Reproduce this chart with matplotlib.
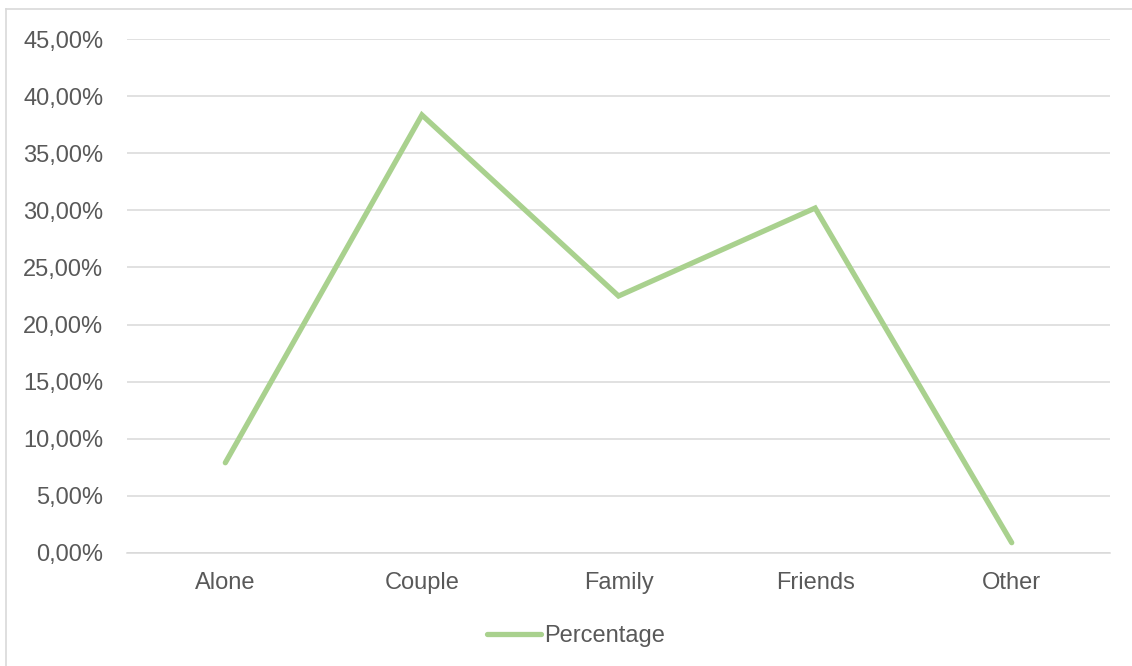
import matplotlib
matplotlib.use("Agg")
import matplotlib.pyplot as plt
from matplotlib.ticker import FuncFormatter, MultipleLocator
from matplotlib.lines import Line2D

categories = ["Alone", "Couple", "Family", "Friends", "Other"]
percentage = [7.9, 38.35, 22.5, 30.2, 0.9]

plt.rcParams["font.family"] = ["Liberation Sans", "DejaVu Sans"]

fig = plt.figure(figsize=(11.32, 6.66), dpi=100)
ax = fig.add_axes([0.1122, 0.1697, 0.9806 - 0.1122, 0.9414 - 0.1697])

x = list(range(len(categories)))
line_color = "#A9D18E"
ax.plot(x, percentage, color=line_color, linewidth=3.8, solid_joinstyle="miter",
        solid_capstyle="round", label="Percentage", zorder=3)

ax.set_xlim(-0.5, len(categories) - 0.5)
ax.set_ylim(0, 45)
ax.yaxis.set_major_locator(MultipleLocator(5))
ax.yaxis.set_major_formatter(FuncFormatter(lambda v, p: f"{v:.2f}%".replace(".", ",")))
ax.set_xticks(x)
ax.set_xticklabels(categories)

ax.grid(axis="y", color="#D9D9D9", linewidth=1.1, zorder=0)
ax.set_axisbelow(True)
for s in ["top", "right", "left"]:
    ax.spines[s].set_visible(False)
ax.spines["bottom"].set_color("#D9D9D9")
ax.spines["bottom"].set_linewidth(1.1)
ax.tick_params(axis="both", length=0, labelsize=17, labelcolor="#595959")
ax.tick_params(axis="y", pad=17)
ax.tick_params(axis="x", pad=14)

handle = Line2D([0], [0], color=line_color, linewidth=3.8, solid_capstyle="round")
fig.legend([handle], ["Percentage"], loc="center", bbox_to_anchor=(0.509, 0.045),
           frameon=False, fontsize=17, labelcolor="#595959", handlelength=2.25,
           handletextpad=0.15, borderpad=0, borderaxespad=0)

# chart frame
fig.add_artist(Line2D([6 / 1132, 6 / 1132], [0, 1 - 9 / 666], color="#D9D9D9", linewidth=1.2,
                      transform=fig.transFigure))
fig.add_artist(Line2D([6 / 1132, 1], [1 - 9 / 666, 1 - 9 / 666], color="#D9D9D9", linewidth=1.2,
                      transform=fig.transFigure))

fig.savefig("out.png", dpi=100)
